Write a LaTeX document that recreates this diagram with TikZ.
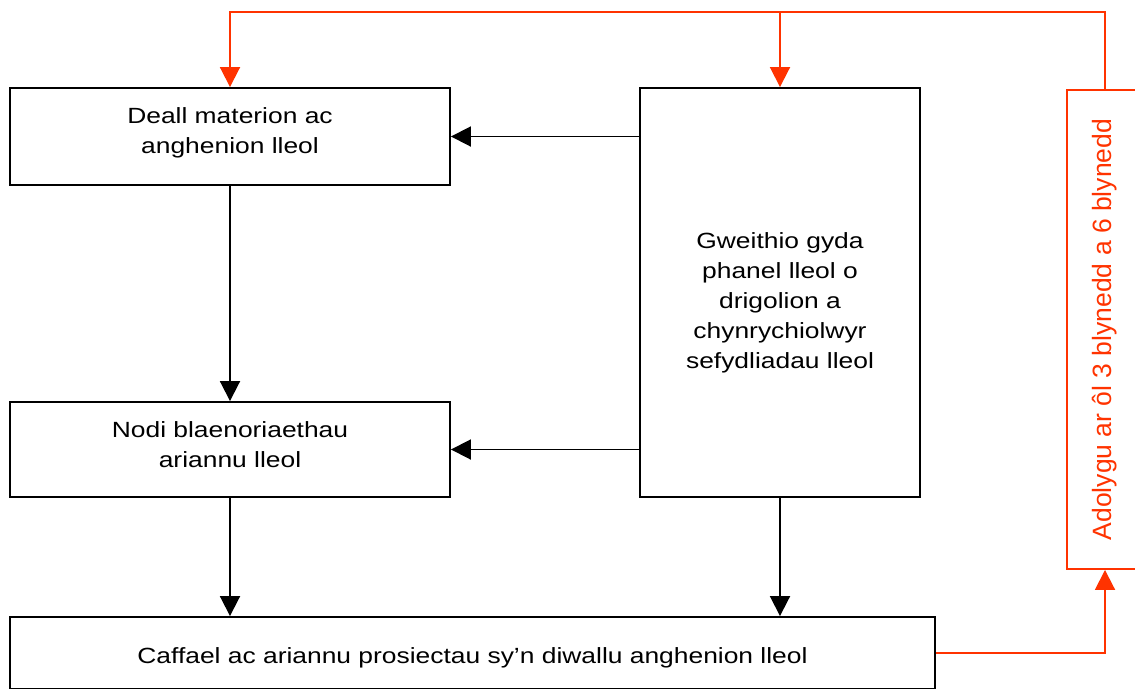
\documentclass[tikz,border=0pt]{standalone}
\usepackage{fontspec}
\setmainfont{Liberation Sans}[FakeStretch=1.2]
\newfontfamily\plainsans{Liberation Sans}
\usetikzlibrary{arrows.meta}
\definecolor{revred}{RGB}{255,51,0}

\begin{document}
\begin{tikzpicture}[x=1pt,y=-1pt,
  box/.style={draw,line width=1.9pt,inner sep=0pt},
  boxtext/.style={align=center,inner sep=0pt,font=\fontsize{22}{30}\selectfont},
  revbox/.style={draw=revred,line width=1.9pt,inner sep=0pt,text=revred,
    font=\plainsans\fontsize{26.5}{30}\selectfont},
  arr/.style={line width=1.9pt,-{Triangle[length=20pt,width=20pt]}},
  revarr/.style={arr,draw=revred}]
  \useasboundingbox (0,0) rectangle (1135,688);
  \clip (0,0) rectangle (1135,688);

  \node[box,minimum width=440pt,minimum height=97pt] (deall) at (230,136.5) {};
  \node[box,minimum width=440pt,minimum height=95pt] (nodi) at (230,449.5) {};
  \node[box,minimum width=280pt,minimum height=409pt] (gweithio) at (780,292.5) {};
  \node[box,minimum width=925pt,minimum height=72pt] (caffael) at (472.5,653) {};
  \node[revbox,minimum width=76pt,minimum height=479pt] (adolygu) at (1105,329.5)
    {\rotatebox{90}{Adolygu ar ôl 3 blynedd a 6 blynedd}};
  \coordinate (top) at (1105,12);

  \node[boxtext] (deallt) at ([yshift=4pt]deall.center) {Deall materion ac\\anghenion lleol};
  \node[boxtext] (nodit) at ([yshift=5pt]nodi.center) {Nodi blaenoriaethau\\ariannu lleol};
  \node[boxtext] (gweithiot) at ([yshift=-10pt]gweithio.center)
    {Gweithio gyda\\phanel lleol o\\drigolion a\\chynrychiolwyr\\sefydliadau lleol};
  \node[boxtext] (caffaelt) at ([yshift=-5pt]caffael.center)
    {Caffael ac ariannu prosiectau sy’n diwallu anghenion lleol};

  % panel feeds the first two steps
  \draw[arr] (gweithio.west |- deall.east) -- (deall.east);
  \draw[arr] (gweithio.west |- nodi.east) -- (nodi.east);
  \draw[arr] (deall) -- (nodi);
  \draw[arr] (nodi.south) -- (nodi.south |- caffael.north);
  \draw[arr] (gweithio.south) -- (gweithio.south |- caffael.north);

  % review loop
  \draw[revarr] (caffael.east) -| (adolygu.south);
  \draw[revarr] (adolygu.north) -- (top) -- (deall.north |- top) -- (deall.north);
  \draw[revarr] (gweithio.north |- top) -- (gweithio.north);
\end{tikzpicture}
\end{document}
